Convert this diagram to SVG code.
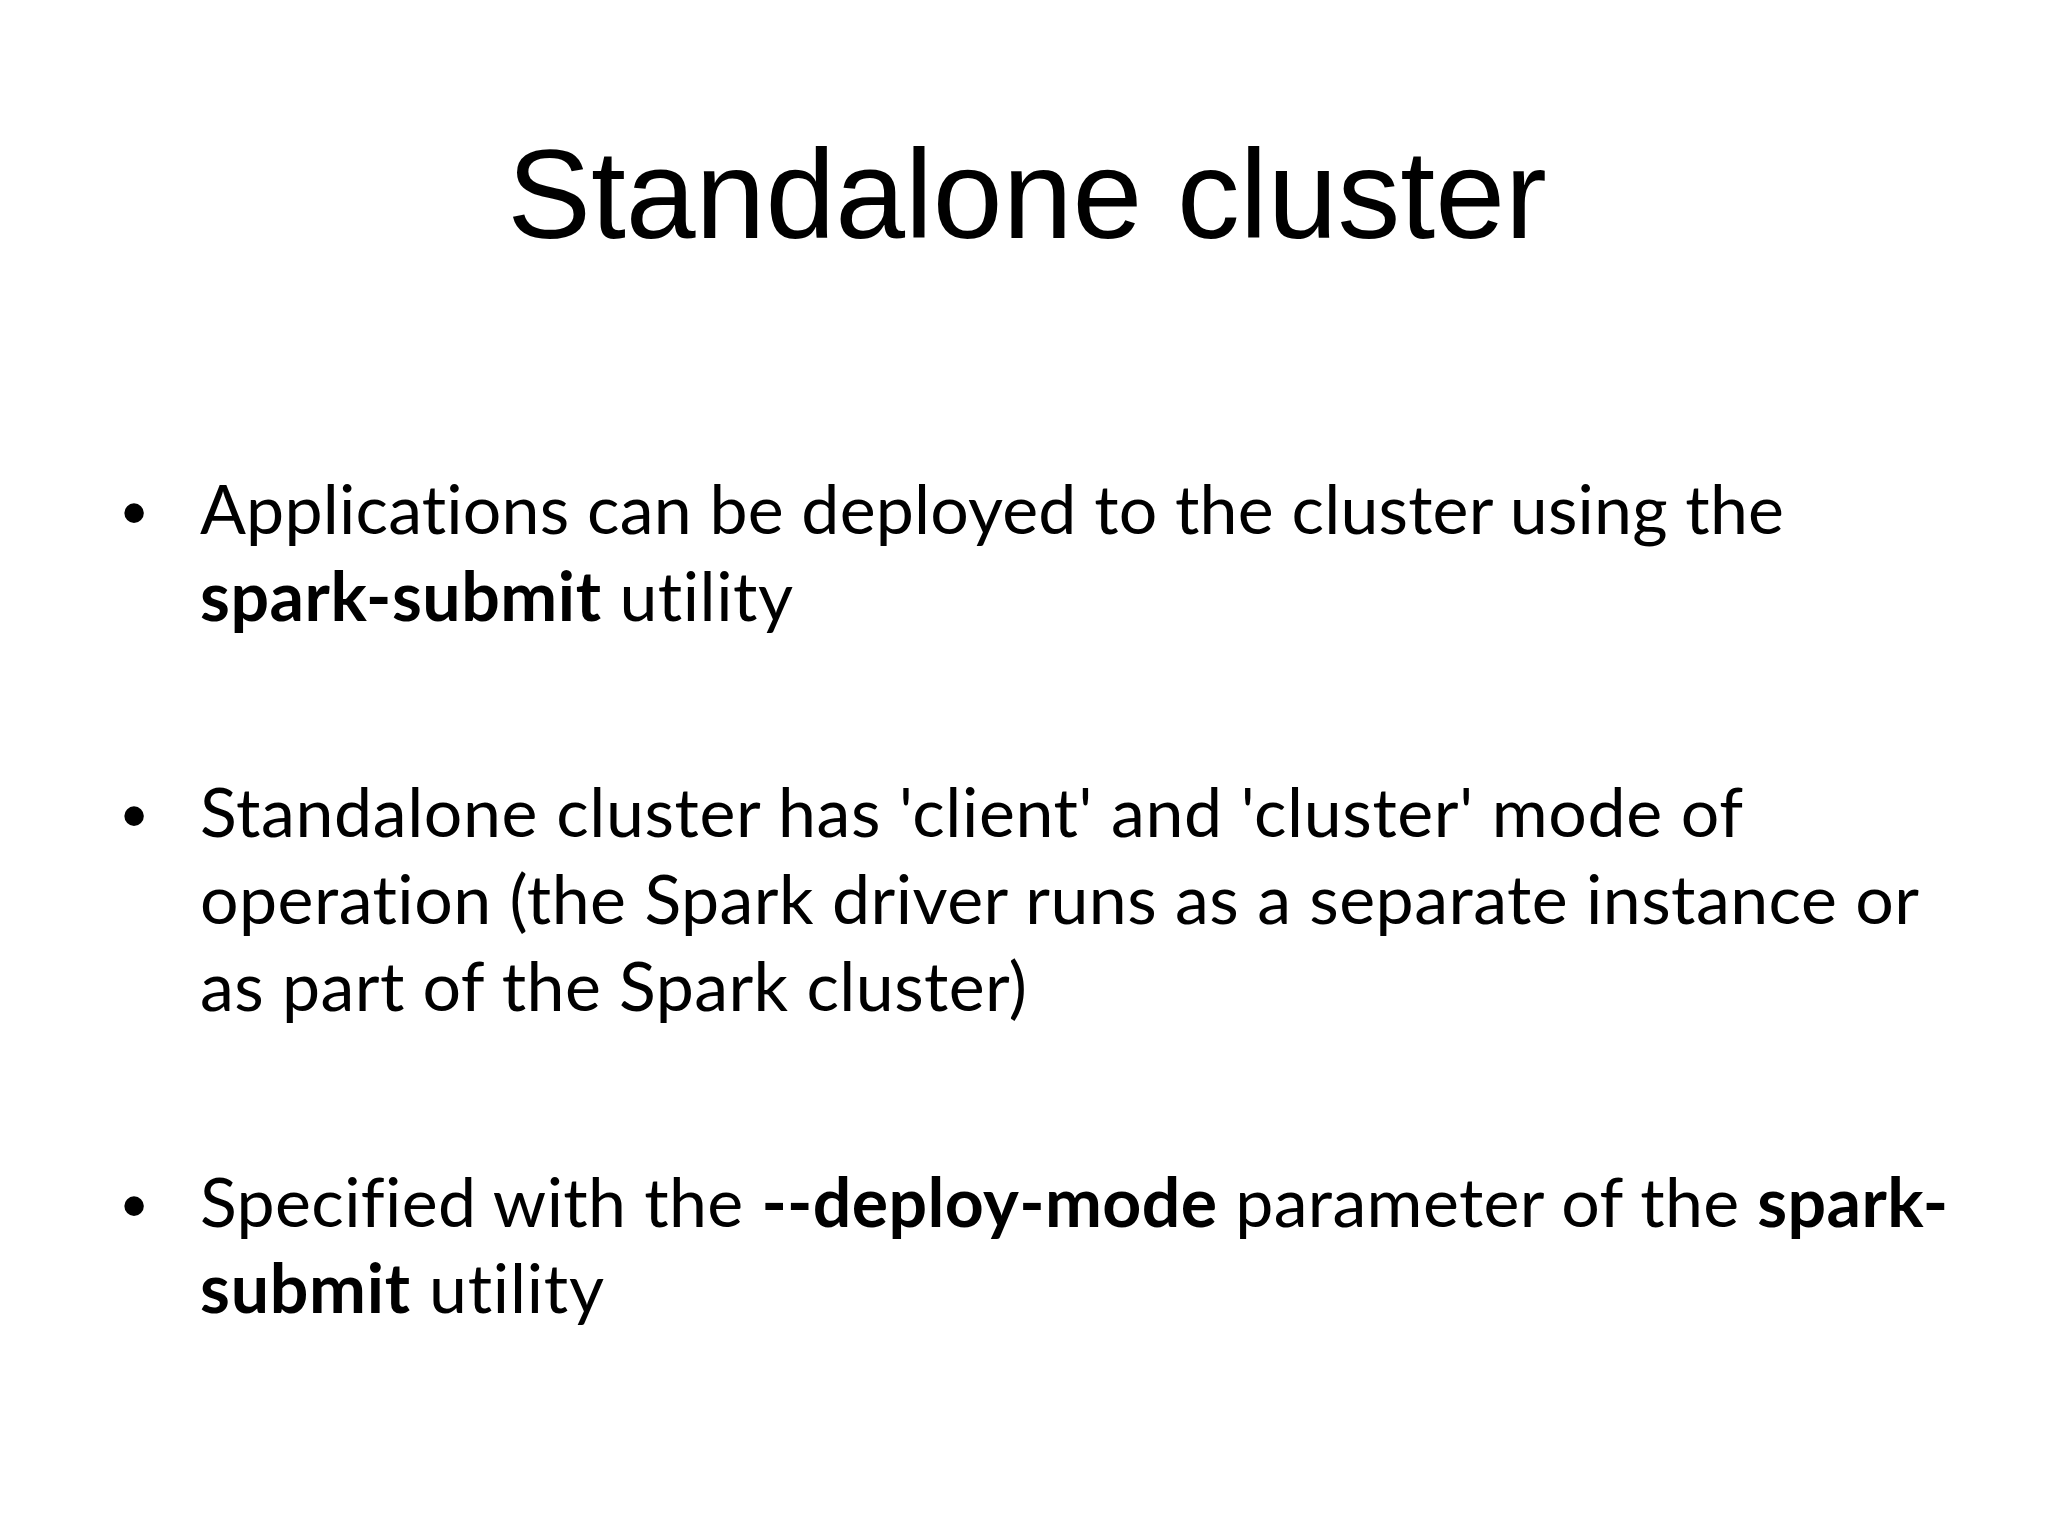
<svg xmlns="http://www.w3.org/2000/svg" width="2048" height="1536" viewBox="0 0 2048 1536">
<style>
.title{font-family:"Liberation Sans",Arial,sans-serif;font-size:125.5px;fill:#000}
.body{font-family:Lato,"Open Sans",sans-serif;font-size:68px;fill:#000;font-variant-ligatures:none;font-feature-settings:"liga" 0,"clig" 0}
.b{font-weight:bold}
.bul{font-family:"Liberation Sans",Arial,sans-serif;font-size:72px;fill:#000}
</style>
<rect width="2048" height="1536" fill="#fff"/>
<g id="title">
<text class="title" x="1027" y="238" text-anchor="middle">Standalone cluster</text>
</g>
<g id="bullet1">
<text class="bul" x="134" y="537" text-anchor="middle">•</text>
<text class="body" x="200" y="534" textLength="1584" lengthAdjust="spacing">Applications can be deployed to the cluster using the</text>
<text class="body" x="200" y="621" textLength="593" lengthAdjust="spacing"><tspan class="b">spark-submit</tspan> utility</text>
</g>
<g id="bullet2">
<text class="bul" x="134" y="840" text-anchor="middle">•</text>
<text class="body" x="200" y="837" textLength="1543" lengthAdjust="spacing">Standalone cluster has 'client' and 'cluster' mode of</text>
<text class="body" x="200" y="924" textLength="1719" lengthAdjust="spacing">operation (the Spark driver runs as a separate instance or</text>
<text class="body" x="200" y="1011" textLength="827" lengthAdjust="spacing">as part of the Spark cluster)</text>
</g>
<g id="bullet3">
<text class="bul" x="134" y="1230" text-anchor="middle">•</text>
<text class="body" x="200" y="1227" textLength="1748" lengthAdjust="spacing">Specified with the <tspan class="b">--deploy-mode</tspan> parameter of the <tspan class="b">spark-</tspan></text>
<text class="body" x="200" y="1313" textLength="404" lengthAdjust="spacing"><tspan class="b">submit</tspan> utility</text>
</g>
</svg>
